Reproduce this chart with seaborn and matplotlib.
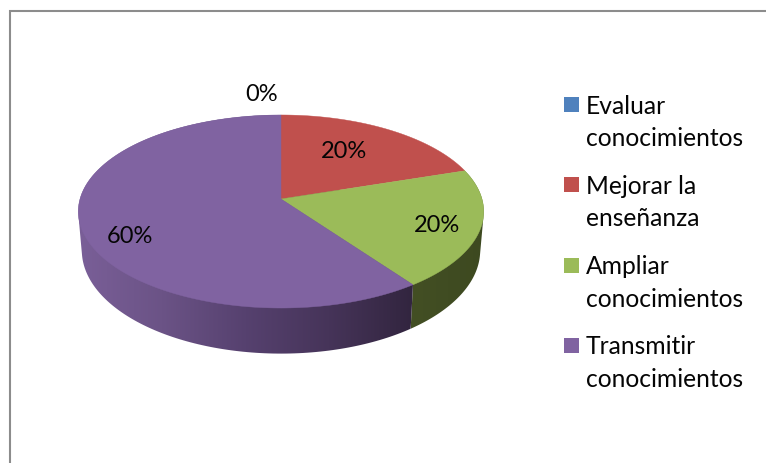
# -*- coding: utf-8 -*-
# 3D looking pie chart, drawn as projected polygons
import numpy as np
import matplotlib
matplotlib.use('Agg')
import matplotlib.pyplot as plt
import matplotlib.colors as mcolors
from matplotlib.patches import Polygon, Rectangle
import seaborn as sns

categories = ['Evaluar\nconocimientos', 'Mejorar la\nenseñanza',
              'Ampliar\nconocimientos', 'Transmitir\nconocimientos']
values = [0, 20, 20, 60]
pct_labels = ['0%', '20%', '20%', '60%']
colors = ['#4F81BD', '#C0504D', '#9BBB59', '#8063A1']

sns.set_theme(style='white')
plt.rcParams['font.family'] = ['Lato', 'DejaVu Sans']

# Projection of the disk, in figure pixels
CX = 281
TOP_Y, BOT_Y = 199, 237
TOP_A, BOT_A = 94.9, 101.5
TOP_B, BOT_B = 201, 197.5
K = 0.1295


def project(theta, r, cy, a, b):
    # theta runs clockwise from 12 o'clock
    x = r * np.sin(theta)
    y = r * np.cos(theta)
    d = 1 + K * y
    return CX + b * x / d, cy - a * y / d


def arc(start, end, cy, a, b):
    t = np.linspace(start, end, 200)
    px, py = project(t, 1.0, cy, a, b)
    return np.column_stack([px, py])


def hull(pts):
    # monotone chain, the wall outline has to include the tangent at the sides
    pts = sorted(map(tuple, pts))

    def half(seq):
        out = []
        for p in seq:
            while len(out) > 1:
                ax_, ay_ = out[-2]
                bx_, by_ = out[-1]
                if (bx_ - ax_) * (p[1] - ay_) - (by_ - ay_) * (p[0] - ax_) > 0:
                    break
                out.pop()
            out.append(p)
        return out[:-1]

    return np.array(half(pts) + half(pts[::-1]))


fig = plt.figure(figsize=(7.66, 4.63), dpi=100)
ax = fig.add_axes([0, 0, 1, 1])

# frame of the pasted chart, open on the right and at the bottom
ax.plot([9.5, 9.5, 766], [463, 10.5, 10.5], color='#8c8c8c', lw=1.5, zorder=1,
        solid_joinstyle='miter')

bounds = np.radians(np.cumsum([0] + values) * 360 / sum(values))

# side walls, ramps go left to right
side_ramps = {
    2: ['#434f24', '#3d4920'],
    3: ['#7a5f98', '#6b5386', '#56416f', '#463459', '#32253f'],
}
for i, ramp in side_ramps.items():
    start, end = bounds[i], bounds[i + 1]
    pts = hull(np.vstack([arc(start, end, TOP_Y, TOP_A, TOP_B),
                          arc(start, end, BOT_Y, BOT_A, BOT_B)]))
    patch = Polygon(pts, closed=True, facecolor='none', edgecolor='none')
    ax.add_patch(patch)
    cmap = mcolors.LinearSegmentedColormap.from_list('side', ramp)
    grad = np.linspace(0, 1, 256).reshape(1, -1)
    im = ax.imshow(grad, cmap=cmap, extent=[pts[:, 0].min(), pts[:, 0].max(), 400, 100],
                   aspect='auto', zorder=2)
    im.set_clip_path(patch)

ax.set_xlim(0, 766)
ax.set_ylim(463, 0)
ax.axis('off')

# top face
for i, v in enumerate(values):
    if v == 0:
        continue
    pts = np.vstack([[CX, TOP_Y], arc(bounds[i], bounds[i + 1], TOP_Y, TOP_A, TOP_B)])
    ax.add_patch(Polygon(pts, closed=True, facecolor=colors[i], edgecolor=colors[i],
                         lw=0.3, zorder=3))

# percent labels
label_xy = [(262, 94.5), (344, 151.5), (437, 225.5), (130, 236.5)]
for (lx, ly), s in zip(label_xy, pct_labels):
    ax.text(lx, ly, s, ha='center', va='center', fontsize=17, color='#050505', zorder=4)

# legend
for i, (name, col) in enumerate(zip(categories, colors)):
    top = 97 + i * 80.3
    ax.add_patch(Rectangle((564, top), 15, 15, facecolor=col, edgecolor='none', zorder=4))
    for j, line in enumerate(name.split('\n')):
        ax.text(586, top + 9 + j * 32.5, line, ha='left', va='center',
                fontsize=17.7, color='#050505', zorder=4)

fig.savefig('out.png', dpi=100)
